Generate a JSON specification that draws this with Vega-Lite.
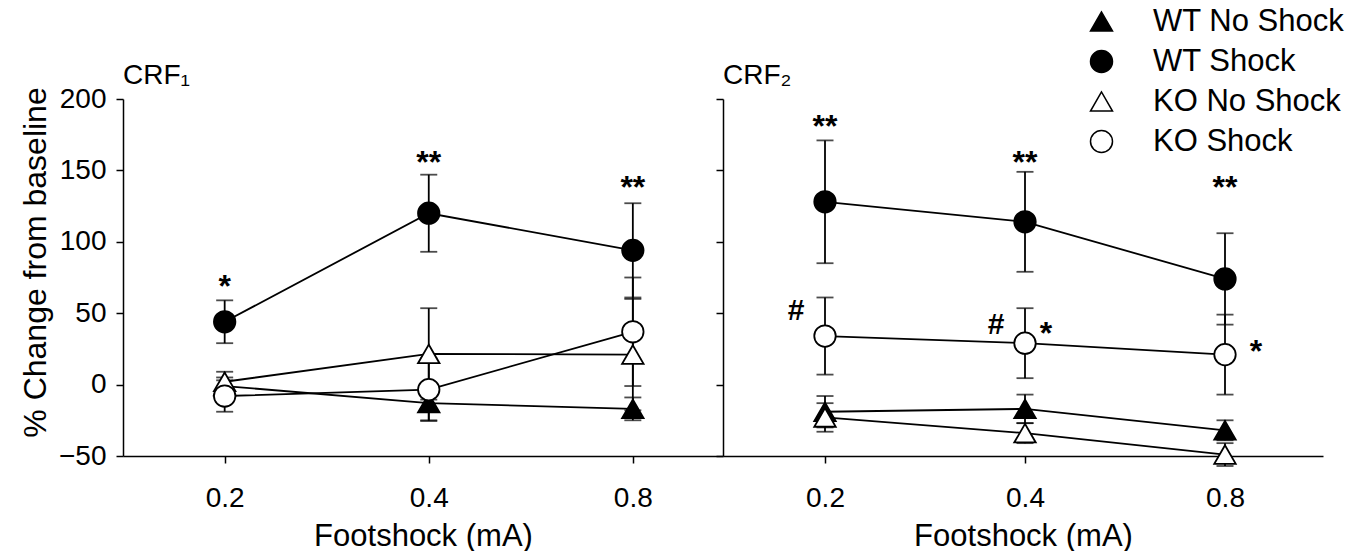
{
  "$schema": "https://vega.github.io/schema/vega-lite/v6.json",
  "padding": {"left": 19, "top": 6, "right": 5, "bottom": 0},
  "background": "white",
  "config": {
    "font": "Liberation Sans",
    "view": {"stroke": null},
    "axis": {"domainColor": "black", "domainWidth": 1.5, "tickColor": "black", "tickWidth": 1.5, "tickSize": 7, "labelFontSize": 28, "titleFontSize": 32, "labelColor": "black", "titleColor": "black", "titleFontWeight": "normal", "grid": false, "labelFont": "Liberation Sans", "titleFont": "Liberation Sans"},
    "title": {"font": "Liberation Sans", "fontSize": 28, "fontWeight": "normal", "color": "black"}
  },
  "datasets": {
    "main": [
      {"panel": "CRF1", "dose": "0.2", "group": "WT No Shock", "value": -1, "err": 6},
      {"panel": "CRF1", "dose": "0.4", "group": "WT No Shock", "value": -13, "err": 12},
      {"panel": "CRF1", "dose": "0.8", "group": "WT No Shock", "value": -17, "err": 8},
      {"panel": "CRF1", "dose": "0.2", "group": "WT Shock", "value": 44, "err": 15},
      {"panel": "CRF1", "dose": "0.4", "group": "WT Shock", "value": 120, "err": 27},
      {"panel": "CRF1", "dose": "0.8", "group": "WT Shock", "value": 94, "err": 33},
      {"panel": "CRF1", "dose": "0.2", "group": "KO No Shock", "value": 2, "err": 7},
      {"panel": "CRF1", "dose": "0.4", "group": "KO No Shock", "value": 21.5, "err": 32},
      {"panel": "CRF1", "dose": "0.8", "group": "KO No Shock", "value": 21, "err": 39},
      {"panel": "CRF1", "dose": "0.2", "group": "KO Shock", "value": -8, "err": 11},
      {"panel": "CRF1", "dose": "0.4", "group": "KO Shock", "value": -3.5, "err": 22},
      {"panel": "CRF1", "dose": "0.8", "group": "KO Shock", "value": 37, "err": 38},
      {"panel": "CRF2", "dose": "0.2", "group": "WT No Shock", "value": -19, "err": 11},
      {"panel": "CRF2", "dose": "0.4", "group": "WT No Shock", "value": -17, "err": 10},
      {"panel": "CRF2", "dose": "0.8", "group": "WT No Shock", "value": -32, "err": 7},
      {"panel": "CRF2", "dose": "0.2", "group": "WT Shock", "value": 128, "err": 43},
      {"panel": "CRF2", "dose": "0.4", "group": "WT Shock", "value": 114, "err": 35},
      {"panel": "CRF2", "dose": "0.8", "group": "WT Shock", "value": 74, "err": 32},
      {"panel": "CRF2", "dose": "0.2", "group": "KO No Shock", "value": -23, "err": 10},
      {"panel": "CRF2", "dose": "0.4", "group": "KO No Shock", "value": -34, "err": 7},
      {"panel": "CRF2", "dose": "0.8", "group": "KO No Shock", "value": -49, "err": 8},
      {"panel": "CRF2", "dose": "0.2", "group": "KO Shock", "value": 34, "err": 27},
      {"panel": "CRF2", "dose": "0.4", "group": "KO Shock", "value": 29, "err": 24.5},
      {"panel": "CRF2", "dose": "0.8", "group": "KO Shock", "value": 21, "err": 28}
    ],
    "annot": [
      {"panel": "CRF1", "dose": "0.2", "value": 72, "label": "*", "pos": "c"},
      {"panel": "CRF1", "dose": "0.4", "value": 159, "label": "**", "pos": "c"},
      {"panel": "CRF1", "dose": "0.8", "value": 141, "label": "**", "pos": "c"},
      {"panel": "CRF2", "dose": "0.2", "value": 184, "label": "**", "pos": "c"},
      {"panel": "CRF2", "dose": "0.4", "value": 159, "label": "**", "pos": "c"},
      {"panel": "CRF2", "dose": "0.8", "value": 141, "label": "**", "pos": "c"},
      {"panel": "CRF2", "dose": "0.2", "value": 51.5, "label": "#", "pos": "l"},
      {"panel": "CRF2", "dose": "0.4", "value": 41.5, "label": "#", "pos": "l"},
      {"panel": "CRF2", "dose": "0.4", "value": 39, "label": "*", "pos": "r1"},
      {"panel": "CRF2", "dose": "0.8", "value": 26, "label": "*", "pos": "r2"}
    ]
  },
  "spacing": 0,
  "bounds": "flush",
  "resolve": {"scale": {"shape": "shared", "fill": "shared", "x": "independent", "y": "independent"}, "legend": {"shape": "shared", "fill": "shared"}},
  "hconcat": [
    {
      "width": 600,
      "height": 357,
      "title": {"text": "CRF₁", "anchor": "start", "frame": "group", "dx": 0, "offset": -5},
      "encoding": {
        "x": {"field": "dose", "type": "ordinal", "sort": ["0.2", "0.4", "0.8"], "scale": {"type": "point", "padding": 0.47, "align": 0.53}, "axis": {"title": "Footshock (mA)", "labelAngle": 0, "labelPadding": 21, "titlePadding": 9, "titleFontSize": 31}},
        "y": {"field": "value", "type": "quantitative", "scale": {"domain": [-50, 200], "nice": false, "zero": false}, "axis": {"title": "% Change from baseline", "values": [-50, 0, 50, 100, 150, 200], "labelPadding": 10, "titlePadding": 6, "titleY": 163}}
      },
      "layer": [
        {
          "data": {"name": "main"},
          "transform": [{"filter": "datum.panel === 'CRF1'"}],
          "mark": {"type": "errorbar", "ticks": {"size": 17, "thickness": 1.8, "color": "black"}, "rule": {"strokeWidth": 1.8, "color": "black"}},
          "encoding": {"yError": {"field": "err"}, "y": {"field": "value", "type": "quantitative", "title": "% Change from baseline"}}
        },
        {
          "data": {"name": "main"},
          "transform": [{"filter": "datum.panel === 'CRF1'"}],
          "mark": {"type": "line", "color": "black", "strokeWidth": 1.8},
          "encoding": {"detail": {"field": "group"}}
        },
        {
          "data": {"name": "main"},
          "transform": [{"filter": "datum.panel === 'CRF1'"}],
          "mark": {"type": "point", "size": 460, "stroke": "black", "strokeWidth": 1.8, "opacity": 1, "filled": false},
          "encoding": {
            "shape": {"field": "group", "type": "nominal", "scale": {"domain": ["WT No Shock", "WT Shock", "KO No Shock", "KO Shock"], "range": ["triangle-up", "circle", "triangle-up", "circle"]},
              "legend": {"title": null, "orient": "none", "legendX": 963, "legendY": -93, "labelFontSize": 31, "labelFont": "Liberation Sans", "labelColor": "black", "labelOffset": 36, "labelLimit": 0, "rowPadding": 8, "symbolSize": 484, "symbolStrokeWidth": 1.5}},
            "fill": {"field": "group", "type": "nominal", "scale": {"domain": ["WT No Shock", "WT Shock", "KO No Shock", "KO Shock"], "range": ["black", "black", "white", "white"]}, "legend": null}
          }
        },
        {
          "data": {"name": "annot"},
          "transform": [{"filter": "datum.panel === 'CRF1' && datum.pos === 'c'"}],
          "mark": {"type": "text", "fontSize": 32, "fontWeight": "bold", "baseline": "middle", "dy": 5, "color": "black"},
          "encoding": {"text": {"field": "label"}}
        }
      ]
    },
    {
      "width": 600,
      "height": 357,
      "title": {"text": "CRF₂", "anchor": "start", "frame": "group", "dx": 0, "offset": 8},
      "encoding": {
        "x": {"field": "dose", "type": "ordinal", "sort": ["0.2", "0.4", "0.8"], "scale": {"type": "point", "padding": 0.5, "align": 0.51}, "axis": {"title": "Footshock (mA)", "labelAngle": 0, "labelPadding": 21, "titlePadding": 9, "titleFontSize": 31}},
        "y": {"field": "value", "type": "quantitative", "scale": {"domain": [-50, 200], "nice": false, "zero": false}, "axis": {"title": null, "labels": false, "values": [-50, 0, 50, 100, 150, 200]}}
      },
      "layer": [
        {
          "data": {"name": "main"},
          "transform": [{"filter": "datum.panel === 'CRF2'"}],
          "mark": {"type": "errorbar", "ticks": {"size": 17, "thickness": 1.8, "color": "black"}, "rule": {"strokeWidth": 1.8, "color": "black"}},
          "encoding": {"yError": {"field": "err"}, "y": {"field": "value", "type": "quantitative", "title": null}}
        },
        {
          "data": {"name": "main"},
          "transform": [{"filter": "datum.panel === 'CRF2'"}],
          "mark": {"type": "line", "color": "black", "strokeWidth": 1.8},
          "encoding": {"detail": {"field": "group"}}
        },
        {
          "data": {"name": "main"},
          "transform": [{"filter": "datum.panel === 'CRF2'"}],
          "mark": {"type": "point", "size": 460, "stroke": "black", "strokeWidth": 1.8, "opacity": 1, "filled": false},
          "encoding": {
            "shape": {"field": "group", "type": "nominal", "scale": {"domain": ["WT No Shock", "WT Shock", "KO No Shock", "KO Shock"], "range": ["triangle-up", "circle", "triangle-up", "circle"]},
              "legend": {"title": null, "orient": "none", "legendX": 963, "legendY": -93, "labelFontSize": 31, "labelFont": "Liberation Sans", "labelColor": "black", "labelOffset": 36, "labelLimit": 0, "rowPadding": 8, "symbolSize": 484, "symbolStrokeWidth": 1.5}},
            "fill": {"field": "group", "type": "nominal", "scale": {"domain": ["WT No Shock", "WT Shock", "KO No Shock", "KO Shock"], "range": ["black", "black", "white", "white"]}, "legend": null}
          }
        },
        {
          "data": {"name": "annot"},
          "transform": [{"filter": "datum.panel === 'CRF2' && datum.pos === 'c'"}],
          "mark": {"type": "text", "fontSize": 32, "fontWeight": "bold", "baseline": "middle", "dy": 5, "color": "black"},
          "encoding": {"text": {"field": "label"}}
        },
        {
          "data": {"name": "annot"},
          "transform": [{"filter": "datum.panel === 'CRF2' && datum.pos === 'l'"}],
          "mark": {"type": "text", "fontSize": 30, "fontWeight": "bold", "baseline": "middle", "dx": -29, "color": "black"},
          "encoding": {"text": {"field": "label"}}
        },
        {
          "data": {"name": "annot"},
          "transform": [{"filter": "datum.panel === 'CRF2' && datum.pos === 'r1'"}],
          "mark": {"type": "text", "fontSize": 32, "fontWeight": "bold", "baseline": "middle", "dx": 21, "dy": 5, "color": "black"},
          "encoding": {"text": {"field": "label"}}
        },
        {
          "data": {"name": "annot"},
          "transform": [{"filter": "datum.panel === 'CRF2' && datum.pos === 'r2'"}],
          "mark": {"type": "text", "fontSize": 32, "fontWeight": "bold", "baseline": "middle", "dx": 31, "dy": 5, "color": "black"},
          "encoding": {"text": {"field": "label"}}
        }
      ]
    }
  ]
}
